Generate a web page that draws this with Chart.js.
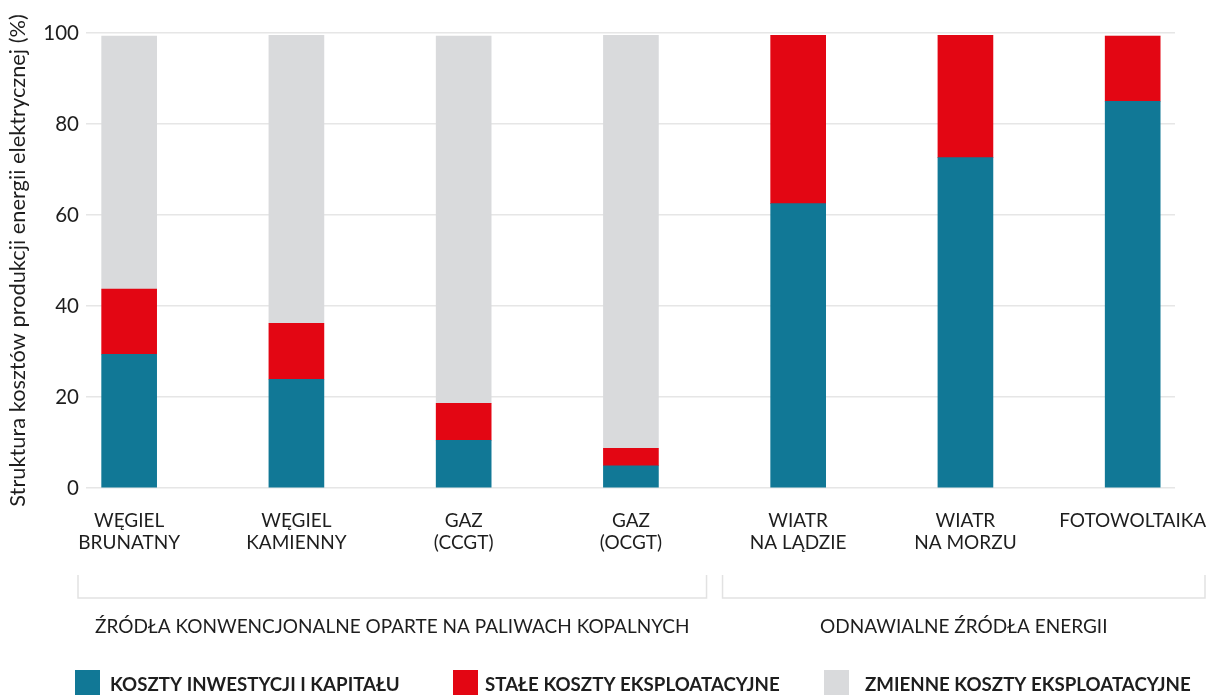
<!DOCTYPE html>
<html lang="pl">
<head>
<meta charset="utf-8">
<title>Struktura kosztów produkcji energii elektrycznej</title>
<script src="https://cdn.jsdelivr.net/npm/chart.js@4"></script>
<style>
  html, body { margin: 0; padding: 0; background: #ffffff; }
  #wrap { width: 1207px; height: 695px; position: relative; }
</style>
</head>
<body>
<div id="wrap"><canvas id="chart" width="1207" height="695"></canvas></div>
<script>
// Technologie wytwarzania (etykiety osi X, w dwóch liniach)
const categories = [
  ['WĘGIEL', 'BRUNATNY'],
  ['WĘGIEL', 'KAMIENNY'],
  ['GAZ', '(CCGT)'],
  ['GAZ', '(OCGT)'],
  ['WIATR', 'NA LĄDZIE'],
  ['WIATR', 'NA MORZU'],
  ['FOTOWOLTAIKA']
];

// Udział poszczególnych składników kosztów (%)
const investmentCosts = [29.4, 23.9, 10.5, 4.9, 62.5, 72.6, 85.0];
const fixedOpCosts    = [14.3, 12.3,  8.1, 3.8, 37.0, 26.9, 14.3];
const variableOpCosts = [55.6, 63.3, 80.7, 90.8,  0.0,  0.0,  0.0];

const seriesLabels = [
  'KOSZTY INWESTYCJI I KAPITAŁU',
  'STAŁE KOSZTY EKSPLOATACYJNE',
  'ZMIENNE KOSZTY EKSPLOATACYJNE'
];

const yTicks = [0, 20, 40, 60, 80, 100];

// Grupy technologii (zakresy indeksów kategorii)
const groups = [
  { label: 'ŹRÓDŁA KONWENCJONALNE OPARTE NA PALIWACH KOPALNYCH', from: 0, to: 3 },
  { label: 'ODNAWIALNE ŹRÓDŁA ENERGII', from: 4, to: 6 }
];

const COLORS = ['#117896', '#e30613', '#d9dadc'];
const TEXT = '#1e1e1e';
const FONT = 'Lato, "Open Sans", sans-serif';

const toPoints = arr => arr.map((v, i) => ({ x: i, y: v }));

// Nawiasy grup i podpisy grup pod osią X
const groupBrackets = {
  id: 'groupBrackets',
  afterDraw(chart) {
    const { ctx, chartArea, width } = chart;
    const x = chart.scales.x;
    const top = 575, bottom = 598, gap = 8;
    ctx.save();
    ctx.strokeStyle = '#e2e2e2';
    ctx.lineWidth = 1.5;
    ctx.font = '19px ' + FONT;
    ctx.fillStyle = TEXT;
    ctx.textAlign = 'center';
    ctx.textBaseline = 'middle';
    groups.forEach((g, gi) => {
      const left = gi === 0 ? chartArea.left - gap
        : x.getPixelForValue(groups[gi - 1].to + 0.5) + gap;
      const right = gi === groups.length - 1 ? width - 2
        : x.getPixelForValue(g.to + 0.5) - gap;
      ctx.beginPath();
      ctx.moveTo(left, top);
      ctx.lineTo(left, bottom);
      ctx.lineTo(right, bottom);
      ctx.lineTo(right, top);
      ctx.stroke();
      ctx.fillText(g.label, (left + right) / 2, 627);
    });
    ctx.restore();
  }
};

// Legenda pod wykresem
const bottomLegend = {
  id: 'bottomLegend',
  afterDraw(chart) {
    const { ctx } = chart;
    const boxX = [75, 453, 824];
    const textX = [110, 485, 865];
    ctx.save();
    ctx.font = 'bold 18.7px ' + FONT;
    ctx.textAlign = 'left';
    ctx.textBaseline = 'alphabetic';
    chart.data.datasets.forEach((ds, i) => {
      ctx.fillStyle = ds.backgroundColor;
      ctx.fillRect(boxX[i], 670, 25, 26);
      ctx.fillStyle = TEXT;
      ctx.fillText(ds.label, textX[i], 691);
    });
    ctx.restore();
  }
};

new Chart(document.getElementById('chart'), {
  type: 'bar',
  data: {
    datasets: [
      { label: seriesLabels[0], data: toPoints(investmentCosts), backgroundColor: COLORS[0] },
      { label: seriesLabels[1], data: toPoints(fixedOpCosts), backgroundColor: COLORS[1] },
      { label: seriesLabels[2], data: toPoints(variableOpCosts), backgroundColor: COLORS[2] }
    ]
  },
  options: {
    responsive: false,
    animation: false,
    layout: { padding: { left: 0, right: 32, top: 33, bottom: 0 } },
    datasets: { bar: { barThickness: 55, borderWidth: 0 } },
    plugins: {
      legend: { display: false },
      tooltip: { enabled: false }
    },
    scales: {
      x: {
        type: 'linear',
        stacked: true,
        offset: false,
        bounds: 'data',
        min: -0.258,
        max: 6.253,
        grid: { display: false, drawTicks: false, offset: false },
        border: { display: false },
        afterBuildTicks(axis) {
          axis.ticks = categories.map((_, i) => ({ value: i }));
        },
        afterFit(axis) {
          axis.height = 207;
          axis.paddingLeft = 0;
          axis.paddingRight = 0;
        },
        ticks: {
          padding: 22,
          autoSkip: false,
          maxRotation: 0,
          color: TEXT,
          font: { family: FONT, size: 19, lineHeight: 1.158 },
          callback: value => categories[value] || ''
        }
      },
      y: {
        stacked: true,
        min: 0,
        max: 100,
        afterBuildTicks(axis) {
          axis.ticks = yTicks.map(v => ({ value: v }));
        },
        afterFit(axis) {
          axis.width = 86;
          axis.paddingTop = 0;
          axis.paddingBottom = 0;
        },
        grid: { color: '#e6e6e6', lineWidth: 1.5, drawTicks: false },
        border: { display: false },
        ticks: {
          padding: 7,
          color: TEXT,
          font: { family: FONT, size: 20.5 }
        },
        title: {
          display: true,
          text: 'Struktura kosztów produkcji energii elektrycznej (%)',
          color: TEXT,
          font: { family: FONT, size: 21.8 },
          padding: { top: 5, bottom: 0 }
        }
      }
    }
  },
  plugins: [groupBrackets, bottomLegend]
});
</script>
</body>
</html>
